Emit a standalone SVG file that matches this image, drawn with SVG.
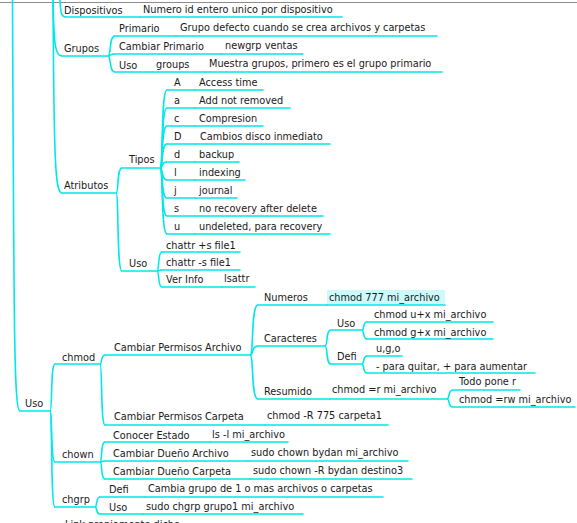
<svg xmlns="http://www.w3.org/2000/svg" width="577" height="523" viewBox="0 0 577 523">
<style>
.t{font-family:"DejaVu Sans","Verdana",sans-serif;font-size:9.75px;fill:#1a1a1a}
.u{stroke:#00e8e8;stroke-width:1.6;fill:none;stroke-linecap:round}
.c{stroke:#00e8e8;stroke-width:1.6;fill:none}
</style>
<rect x="0" y="0" width="577" height="523" fill="#ffffff"/>
<line x1="0" y1="2.5" x2="577" y2="2.5" stroke="#8c8c8c" stroke-width="1"/>
<g id="connectors">
<path class="c" d="M12.5,0 C14,330 14,411 20,411"/>
<path class="c" d="M60,0 C60.5,12 61,17 66,17"/>
<path class="c" d="M53,0 C54,45 55,56 62,56"/>
<path class="c" d="M53,0 C54,160 55,193 62,193"/>
<path class="c" d="M108,56 C111.5,56 108.7,36 115,36"/>
<path class="c" d="M108,56 C111.5,56 108.7,54 115,54"/>
<path class="c" d="M108,56 C111.5,56 108.7,72 115,72"/>
<path class="c" d="M116,193 C119,193 116.6,168 122,168"/>
<path class="c" d="M116,193 C119,193 116.6,271 122,271"/>
<path class="c" d="M160,168 C163.5,168 160.7,90 167,90"/>
<path class="c" d="M160,168 C163.5,168 160.7,108 167,108"/>
<path class="c" d="M160,168 C163.5,168 160.7,126 167,126"/>
<path class="c" d="M160,168 C163.5,168 160.7,144 167,144"/>
<path class="c" d="M160,168 C163.5,168 160.7,162 167,162"/>
<path class="c" d="M160,168 C163.5,168 160.7,180 167,180"/>
<path class="c" d="M160,168 C163.5,168 160.7,198 167,198"/>
<path class="c" d="M160,168 C163.5,168 160.7,216 167,216"/>
<path class="c" d="M160,168 C163.5,168 160.7,234 167,234"/>
<path class="c" d="M157,271 C159.5,271 157.5,252 162,252"/>
<path class="c" d="M157,271 C159.5,271 157.5,270 162,270"/>
<path class="c" d="M157,271 C159.5,271 157.5,287 162,287"/>
<path class="c" d="M50,411 C52.5,411 50.5,364 55,364"/>
<path class="c" d="M50,411 C52.5,411 50.5,462 55,462"/>
<path class="c" d="M50,411 C52.5,411 50.5,507 55,507"/>
<path class="c" d="M100,364 C102.5,364 100.5,355 105,355"/>
<path class="c" d="M100,364 C102.5,364 100.5,425 105,425"/>
<path class="c" d="M250,355 C254,355 250.8,305 258,305"/>
<path class="c" d="M250,355 C254,355 250.8,346 258,346"/>
<path class="c" d="M250,355 C254,355 250.8,399 258,399"/>
<path class="c" d="M325,346 C328,346 325.6,330 331,330"/>
<path class="c" d="M325,346 C328,346 325.6,364 331,364"/>
<path class="c" d="M362,330 C364.5,330 362.5,322 367,322"/>
<path class="c" d="M362,330 C364.5,330 362.5,339 367,339"/>
<path class="c" d="M362,364 C364.5,364 362.5,356 367,356"/>
<path class="c" d="M362,364 C364.5,364 362.5,373 367,373"/>
<path class="c" d="M447,399 C450,399 447.6,390 453,390"/>
<path class="c" d="M447,399 C450,399 447.6,407 453,407"/>
<path class="c" d="M100,462 C102.5,462 100.5,442 105,442"/>
<path class="c" d="M100,462 C102.5,462 100.5,461 105,461"/>
<path class="c" d="M100,462 C102.5,462 100.5,479 105,479"/>
<path class="c" d="M95,507 C97.5,507 95.5,497 100,497"/>
<path class="c" d="M95,507 C97.5,507 95.5,514 100,514"/>
</g>
<g id="n-dispositivos"><line class="u" x1="66" y1="17" x2="140" y2="17"/><text class="t" x="64" y="14">Dispositivos</text></g>
<g id="n-numero"><line class="u" x1="140" y1="17" x2="342" y2="17"/><text class="t" x="143" y="13">Numero id entero unico por dispositivo</text></g>
<g id="n-grupos"><line class="u" x1="62" y1="56" x2="108" y2="56"/><text class="t" x="64" y="52">Grupos</text></g>
<g id="n-primario"><line class="u" x1="115" y1="36" x2="176" y2="36"/><text class="t" x="119" y="32">Primario</text></g>
<g id="n-grupodefecto"><line class="u" x1="176" y1="36" x2="437" y2="36"/><text class="t" x="180" y="31">Grupo defecto cuando se crea archivos y carpetas</text></g>
<g id="n-cambiarprimario"><line class="u" x1="115" y1="54" x2="221" y2="54"/><text class="t" x="119" y="50">Cambiar Primario</text></g>
<g id="n-newgrp"><line class="u" x1="221" y1="54" x2="303" y2="54"/><text class="t" x="225" y="49">newgrp ventas</text></g>
<g id="n-usogrupos"><line class="u" x1="115" y1="72" x2="152" y2="72"/><text class="t" x="119" y="69">Uso</text></g>
<g id="n-groups"><line class="u" x1="152" y1="72" x2="205" y2="72"/><text class="t" x="156" y="68">groups</text></g>
<g id="n-muestra"><line class="u" x1="205" y1="72" x2="442" y2="72"/><text class="t" x="209" y="67">Muestra grupos, primero es el grupo primario</text></g>
<g id="n-atributos"><line class="u" x1="62" y1="193" x2="116" y2="193"/><text class="t" x="64" y="189">Atributos</text></g>
<g id="n-tipos"><line class="u" x1="122" y1="168" x2="160" y2="168"/><text class="t" x="129" y="163">Tipos</text></g>
<g id="n-A"><line class="u" x1="167" y1="90" x2="195" y2="90"/><text class="t" x="174" y="86">A</text></g>
<g id="n-A-d"><line class="u" x1="195" y1="90" x2="263" y2="90"/><text class="t" x="199" y="86">Access time</text></g>
<g id="n-a"><line class="u" x1="167" y1="108" x2="195" y2="108"/><text class="t" x="174" y="104">a</text></g>
<g id="n-a-d"><line class="u" x1="195" y1="108" x2="290" y2="108"/><text class="t" x="199" y="104">Add not removed</text></g>
<g id="n-c"><line class="u" x1="167" y1="126" x2="195" y2="126"/><text class="t" x="174" y="122">c</text></g>
<g id="n-c-d"><line class="u" x1="195" y1="126" x2="263" y2="126"/><text class="t" x="199" y="122">Compresion</text></g>
<g id="n-D"><line class="u" x1="167" y1="144" x2="195" y2="144"/><text class="t" x="174" y="140">D</text></g>
<g id="n-D-d"><line class="u" x1="195" y1="144" x2="330" y2="144"/><text class="t" x="200" y="140">Cambios disco inmediato</text></g>
<g id="n-d"><line class="u" x1="167" y1="162" x2="195" y2="162"/><text class="t" x="174" y="158">d</text></g>
<g id="n-d-d"><line class="u" x1="195" y1="162" x2="239" y2="162"/><text class="t" x="199" y="158">backup</text></g>
<g id="n-l"><line class="u" x1="167" y1="180" x2="195" y2="180"/><text class="t" x="174" y="176">l</text></g>
<g id="n-l-d"><line class="u" x1="195" y1="180" x2="245" y2="180"/><text class="t" x="199" y="176">indexing</text></g>
<g id="n-j"><line class="u" x1="167" y1="198" x2="195" y2="198"/><text class="t" x="174" y="194">j</text></g>
<g id="n-j-d"><line class="u" x1="195" y1="198" x2="237" y2="198"/><text class="t" x="199" y="194">journal</text></g>
<g id="n-s"><line class="u" x1="167" y1="216" x2="195" y2="216"/><text class="t" x="174" y="212">s</text></g>
<g id="n-s-d"><line class="u" x1="195" y1="216" x2="323" y2="216"/><text class="t" x="199" y="212">no recovery after delete</text></g>
<g id="n-u"><line class="u" x1="167" y1="234" x2="195" y2="234"/><text class="t" x="174" y="230">u</text></g>
<g id="n-u-d"><line class="u" x1="195" y1="234" x2="330" y2="234"/><text class="t" x="199" y="230">undeleted, para recovery</text></g>
<g id="n-usoattr"><line class="u" x1="122" y1="271" x2="157" y2="271"/><text class="t" x="129" y="267">Uso</text></g>
<g id="n-chattr-plus"><line class="u" x1="162" y1="252" x2="240" y2="252"/><text class="t" x="166" y="249">chattr +s file1</text></g>
<g id="n-chattr-minus"><line class="u" x1="162" y1="270" x2="240" y2="270"/><text class="t" x="166" y="266">chattr -s file1</text></g>
<g id="n-verinfo"><line class="u" x1="162" y1="287" x2="222" y2="287"/><text class="t" x="166" y="283">Ver Info</text></g>
<g id="n-lsattr"><line class="u" x1="222" y1="287" x2="255" y2="287"/><text class="t" x="224" y="282">lsattr</text></g>
<g id="n-uso"><line class="u" x1="20" y1="411" x2="50" y2="411"/><text class="t" x="25" y="407">Uso</text></g>
<g id="n-chmod"><line class="u" x1="55" y1="364" x2="100" y2="364"/><text class="t" x="62" y="361">chmod</text></g>
<g id="n-cpa"><line class="u" x1="105" y1="355" x2="250" y2="355"/><text class="t" x="114" y="351">Cambiar Permisos Archivo</text></g>
<g id="n-numeros"><line class="u" x1="258" y1="305" x2="327" y2="305"/><text class="t" x="264" y="301">Numeros</text></g>
<g id="n-chmod777"><rect x="327" y="290" width="118" height="14.5" fill="#ccfafa"/><line class="u" x1="327" y1="305" x2="445" y2="305"/><text class="t" x="329" y="301">chmod 777 mi_archivo</text></g>
<g id="n-caracteres"><line class="u" x1="258" y1="346" x2="325" y2="346"/><text class="t" x="264" y="342">Caracteres</text></g>
<g id="n-usocar"><line class="u" x1="331" y1="330" x2="362" y2="330"/><text class="t" x="337" y="327">Uso</text></g>
<g id="n-ux"><line class="u" x1="367" y1="322" x2="493" y2="322"/><text class="t" x="374" y="318">chmod u+x mi_archivo</text></g>
<g id="n-gx"><line class="u" x1="367" y1="339" x2="493" y2="339"/><text class="t" x="374" y="336">chmod g+x mi_archivo</text></g>
<g id="n-deficar"><line class="u" x1="331" y1="364" x2="362" y2="364"/><text class="t" x="337" y="360">Defi</text></g>
<g id="n-ugo"><line class="u" x1="367" y1="356" x2="402" y2="356"/><text class="t" x="376" y="352">u,g,o</text></g>
<g id="n-quitar"><line class="u" x1="367" y1="373" x2="535" y2="373"/><text class="t" x="376" y="370">- para quitar, + para aumentar</text></g>
<g id="n-resumido"><line class="u" x1="258" y1="399" x2="330" y2="399"/><text class="t" x="264" y="395">Resumido</text></g>
<g id="n-chmodr"><line class="u" x1="330" y1="399" x2="447" y2="399"/><text class="t" x="332" y="393">chmod =r mi_archivo</text></g>
<g id="n-todo"><line class="u" x1="453" y1="390" x2="520" y2="390"/><text class="t" x="459" y="385">Todo pone r</text></g>
<g id="n-chmodrw"><line class="u" x1="453" y1="407" x2="575" y2="407"/><text class="t" x="459" y="403">chmod =rw mi_archivo</text></g>
<g id="n-cpc"><line class="u" x1="105" y1="425" x2="265" y2="425"/><text class="t" x="114" y="420">Cambiar Permisos Carpeta</text></g>
<g id="n-chmodR"><line class="u" x1="265" y1="425" x2="388" y2="425"/><text class="t" x="267" y="419">chmod -R 775 carpeta1</text></g>
<g id="n-chown"><line class="u" x1="55" y1="462" x2="100" y2="462"/><text class="t" x="62" y="458">chown</text></g>
<g id="n-conocer"><line class="u" x1="105" y1="442" x2="210" y2="442"/><text class="t" x="113" y="439">Conocer Estado</text></g>
<g id="n-lsl"><line class="u" x1="210" y1="442" x2="288" y2="442"/><text class="t" x="212" y="438">ls -l mi_archivo</text></g>
<g id="n-cda"><line class="u" x1="105" y1="461" x2="248" y2="461"/><text class="t" x="113" y="457">Cambiar Dueño Archivo</text></g>
<g id="n-chownb"><line class="u" x1="248" y1="461" x2="408" y2="461"/><text class="t" x="251" y="456">sudo chown bydan mi_archivo</text></g>
<g id="n-cdc"><line class="u" x1="105" y1="479" x2="250" y2="479"/><text class="t" x="113" y="475">Cambiar Dueño Carpeta</text></g>
<g id="n-chownR"><line class="u" x1="250" y1="479" x2="412" y2="479"/><text class="t" x="253" y="474">sudo chown -R bydan destino3</text></g>
<g id="n-chgrp"><line class="u" x1="55" y1="507" x2="95" y2="507"/><text class="t" x="62" y="503">chgrp</text></g>
<g id="n-defigrp"><line class="u" x1="100" y1="497" x2="145" y2="497"/><text class="t" x="109" y="493">Defi</text></g>
<g id="n-cambia"><line class="u" x1="145" y1="497" x2="383" y2="497"/><text class="t" x="148" y="492">Cambia grupo de 1 o mas archivos o carpetas</text></g>
<g id="n-usogrp"><line class="u" x1="100" y1="514" x2="143" y2="514"/><text class="t" x="109" y="511">Uso</text></g>
<g id="n-chgrpcmd"><line class="u" x1="143" y1="514" x2="303" y2="514"/><text class="t" x="146" y="510">sudo chgrp grupo1 mi_archivo</text></g>
<g id="n-link"><text class="t" x="65" y="528">Link propiamente dicho</text></g>
</svg>
